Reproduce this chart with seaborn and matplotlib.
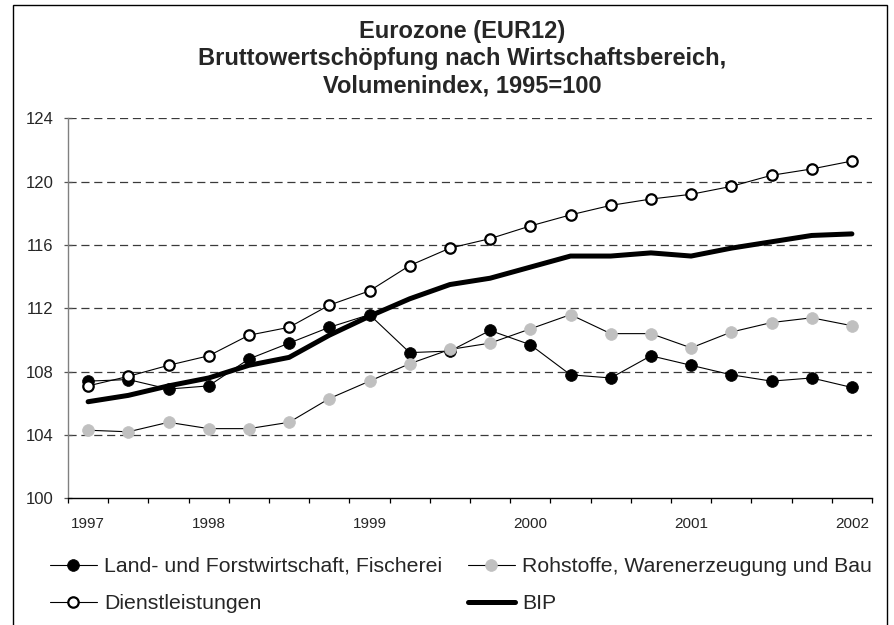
import numpy as np
import pandas as pd
import matplotlib
matplotlib.use("Agg")
import matplotlib.pyplot as plt
import matplotlib.patches as mpatches
import seaborn as sns

# Quarterly values, 1997Q1 - 2001Q4 (1995=100)
quarters = [f"{y}Q{q}" for y in range(1997, 2002) for q in range(1, 5)]
x_labels = ["1997", "", "", "1998", "", "", "", "1999", "", "", "",
            "2000", "", "", "", "2001", "", "", "", "2002"]

land = [107.4, 107.5, 106.9, 107.1, 108.8, 109.8, 110.8, 111.6, 109.2, 109.3,
        110.6, 109.7, 107.8, 107.6, 109.0, 108.4, 107.8, 107.4, 107.6, 107.0]
rohstoffe = [104.3, 104.2, 104.8, 104.4, 104.4, 104.8, 106.3, 107.4, 108.5, 109.4,
             109.8, 110.7, 111.6, 110.4, 110.4, 109.5, 110.5, 111.1, 111.4, 110.9]
dienst = [107.1, 107.7, 108.4, 109.0, 110.3, 110.8, 112.2, 113.1, 114.7, 115.8,
          116.4, 117.2, 117.9, 118.5, 118.9, 119.2, 119.7, 120.4, 120.8, 121.3]
bip = [106.1, 106.5, 107.1, 107.6, 108.4, 108.9, 110.3, 111.5, 112.6, 113.5,
       113.9, 114.6, 115.3, 115.3, 115.5, 115.3, 115.8, 116.2, 116.6, 116.7]

series_names = ["Land- und Forstwirtschaft, Fischerei",
                "Rohstoffe, Warenerzeugung und Bau",
                "Dienstleistungen",
                "BIP"]
title_lines = ["Eurozone (EUR12)",
               "Bruttowertschöpfung nach Wirtschaftsbereich,",
               "Volumenindex, 1995=100"]
y_ticks = [100, 104, 108, 112, 116, 120, 124]

df = pd.DataFrame({"quarter": quarters, "idx": np.arange(len(quarters)),
                   "land": land, "roh": rohstoffe, "dienst": dienst, "bip": bip})

sns.set_theme(style="white")
plt.rcParams["font.family"] = ["Liberation Sans", "DejaVu Sans"]

W, H = 895, 625
fig = plt.figure(figsize=(W / 100, H / 100), dpi=100)
ax = fig.add_axes([68 / W, 1 - 498.3 / H, 804 / W, 380 / H])

thin = dict(linewidth=0.8, markersize=8.5)
sns.lineplot(data=df, x="idx", y="land", ax=ax, color="black", marker="o",
             markerfacecolor="black", markeredgecolor="black", markeredgewidth=0.5,
             label=series_names[0], **thin)
sns.lineplot(data=df, x="idx", y="roh", ax=ax, color="black", marker="o",
             markerfacecolor="#c0c0c0", markeredgecolor="#c0c0c0", markeredgewidth=0.5,
             label=series_names[1], **thin)
sns.lineplot(data=df, x="idx", y="dienst", ax=ax, color="black", marker="o",
             markerfacecolor="white", markeredgecolor="black", markeredgewidth=1.6,
             label=series_names[2], linewidth=0.8, markersize=7.5)
sns.lineplot(data=df, x="idx", y="bip", ax=ax, color="black", linewidth=3.6,
             label=series_names[3])

ax.set_xlim(-0.5, len(quarters) - 0.5)
ax.set_ylim(100, 124)
ax.set_yticks(y_ticks)
ax.set_yticklabels([str(v) for v in y_ticks])
for v in y_ticks[1:]:
    ax.axhline(v, color="#3a3a3a", linewidth=0.9, linestyle=(0, (6.5, 3.8)), zorder=0)

# category boundary ticks, year labels centred on categories
ax.set_xticks(np.arange(-0.5, len(quarters)), labels=[""] * (len(quarters) + 1))
lab_pos = [i for i, s in enumerate(x_labels) if s]
ax.set_xticks(lab_pos, labels=[x_labels[i] for i in lab_pos], minor=True)
ax.tick_params(axis="x", which="major", direction="out", length=3.8, width=0.9,
               color="black", bottom=True)
ax.tick_params(axis="x", which="minor", length=0, pad=13.5, labelsize=11)
ax.tick_params(axis="y", direction="inout", length=6, width=0.9, color="#555555",
               pad=7.5, labelsize=12, left=True)
ax.set_xlabel("")
ax.set_ylabel("")
sns.despine(ax=ax, top=True, right=True)
ax.spines["left"].set_color("#808080")
ax.spines["left"].set_linewidth(1.0)
ax.spines["bottom"].set_color("black")
ax.spines["bottom"].set_linewidth(1.0)

# titles
for line, base in zip(title_lines, [38, 65, 92]):
    fig.text(462 / W, 1 - base / H, line, ha="center", va="baseline",
             fontsize=17, fontweight="bold")

# legend, row-wise order like the original
h, l = ax.get_legend_handles_labels()
ax.get_legend().remove()
order = [0, 2, 1, 3]
fig.legend([h[i] for i in order], [l[i] for i in order], ncol=2, frameon=False,
           loc="upper left", bbox_to_anchor=(50 / W, 1 - 557 / H),
           fontsize=15.3, handlelength=2.2, handletextpad=0.35, columnspacing=1.2,
           labelspacing=0.85, borderpad=0, borderaxespad=0)

# outer border
fig.patches.append(mpatches.Rectangle((13 / W, -0.02), 874 / W, 1.012,
                                      transform=fig.transFigure, fill=False,
                                      edgecolor="black", linewidth=1.0))

fig.savefig("out.png", dpi=100)
